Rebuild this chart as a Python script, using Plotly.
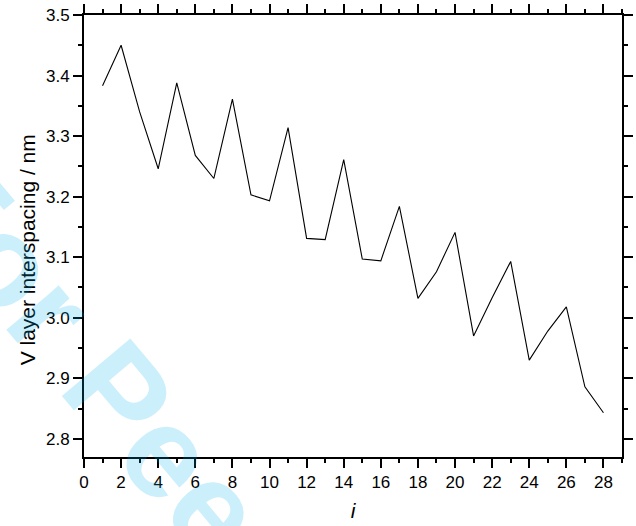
import plotly.graph_objects as go

i_vals = list(range(1, 29))
spacing_nm = [3.383, 3.450, 3.340, 3.246, 3.388, 3.268, 3.230, 3.361, 3.203, 3.193,
              3.314, 3.131, 3.129, 3.261, 3.097, 3.094, 3.184, 3.032, 3.076, 3.141,
              2.970, 3.033, 3.093, 2.930, 2.978, 3.018, 2.886, 2.843]

x_title = "i"
y_title = "V layer interspacing / nm"
watermark = "For Peer Review"

fig = go.Figure()
fig.add_trace(go.Scatter(x=i_vals, y=spacing_nm, mode="lines",
                         line=dict(color="black", width=1.1), showlegend=False))

font_family = "Liberation Sans, Arial, Helvetica, sans-serif"
axis_common = dict(showline=True, linecolor="black", linewidth=2, mirror="ticks",
                   ticks="outside", tickcolor="black", tickwidth=1.6,
                   showgrid=False, zeroline=False,
                   tickfont=dict(family=font_family, size=17, color="black"))

fig.update_xaxes(range=[0, 29], dtick=2, tick0=0, ticklen=9,
                 minor=dict(dtick=1, ticklen=4, ticks="outside", tickcolor="black", tickwidth=1.6),
                 title=dict(text="<i>" + x_title + "</i>", standoff=12,
                            font=dict(family=font_family, size=21, color="black")),
                 **axis_common)
fig.update_yaxes(range=[2.77, 3.5], dtick=0.1, tick0=0, ticklen=9, tickformat=".1f",
                 minor=dict(dtick=0.05, ticklen=4, ticks="outside", tickcolor="black", tickwidth=1.6),
                 **axis_common)

fig.add_annotation(text=y_title, xref="paper", yref="paper",
                   x=-0.1056, y=0.468, xanchor="center", yanchor="middle",
                   textangle=-90, showarrow=False,
                   font=dict(family=font_family, size=21, color="black"))

fig.add_annotation(text="<b>" + watermark + "</b>", xref="paper", yref="paper",
                   x=0.324, y=-0.233, xanchor="center", yanchor="middle",
                   textangle=50, showarrow=False,
                   font=dict(family=font_family, size=130, color="rgba(0,174,239,0.2)"))

fig.update_layout(width=636, height=526, margin=dict(l=84, r=3, t=15, b=69),
                  plot_bgcolor="white", paper_bgcolor="white")

fig.write_html("out.html")
